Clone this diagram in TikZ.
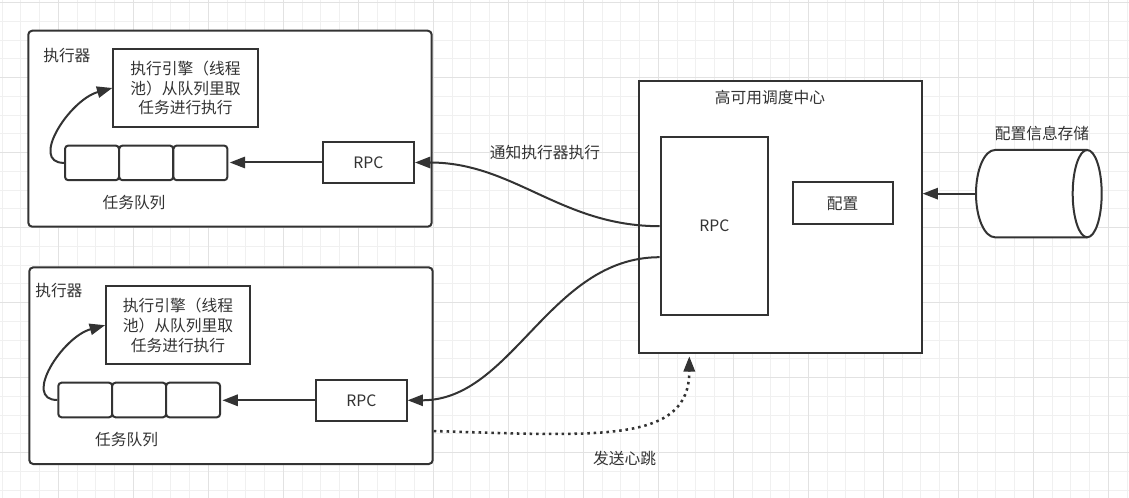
\documentclass[tikz,border=0pt]{standalone}
\usepackage{fontspec}
\setmainfont{Noto Sans CJK SC}
\usetikzlibrary{arrows.meta}
\definecolor{ink}{HTML}{333333}
\definecolor{gmin}{HTML}{F0F0F0}
\definecolor{gmaj}{HTML}{E2E2E2}
\begin{document}
\begin{tikzpicture}[x=0.75pt,y=-0.75pt,
  font=\fontsize{11.8pt}{14.8pt}\selectfont, text=ink,
  box/.style={draw=ink, line width=1.5pt, fill=white, inner sep=0pt},
  rbox/.style={box, rounded corners=3pt},
  cell/.style={box, rounded corners=2.5pt, minimum width=40.5pt, minimum height=26pt},
  lbl/.style={inner sep=0pt},
  arr/.style={draw=ink, line width=1.5pt, -{Triangle[length=11.5pt,width=8.5pt]}},
  dotarr/.style={draw=ink, line width=1.9pt, dash pattern=on 1.9pt off 2.9pt, -{Triangle[length=11.5pt,width=8.5pt]}}
]
\useasboundingbox (0,0) rectangle (1129,498);
\fill[white] (0,0) rectangle (1129,498);
% grid
\foreach \k in {0,...,60} {
  \draw[gmin, line width=0.75pt] ({2.05+18.75*\k},0) -- ({2.05+18.75*\k},498);
}
\foreach \k in {0,...,26} {
  \draw[gmin, line width=0.75pt] (0,{2.7+18.75*\k}) -- (1129,{2.7+18.75*\k});
}
\foreach \k in {0,...,14} {
  \draw[gmaj, line width=0.75pt] ({58.3+75*\k},0) -- ({58.3+75*\k},498);
}
\foreach \k in {0,...,6} {
  \draw[gmaj, line width=0.75pt] (0,{2.7+75*\k}) -- (1129,{2.7+75*\k});
}

% executor 1
\node[rbox, minimum width=302.6pt, minimum height=147pt] (ex1) at (230,128.7) {};
\node[lbl, anchor=west] (ex1t) at (43,56) {执行器};
\node[box, minimum width=108.3pt, minimum height=58pt, align=center] (eng1) at (185.5,88) {执行引擎（线程\\池）从队列里取\\任务进行执行};
\node[cell] (q1a) at (92,162.9) {};
\node[cell] (q1b) at (146.2,162.9) {};
\node[cell] (q1c) at (200.4,162.9) {};
\node[lbl] (q1t) at (134,202.3) {任务队列};
\node[box, minimum width=68.5pt, minimum height=30.3pt] (rpc1) at (368.3,162.5) {RPC};

% executor 2
\node[rbox, minimum width=302.6pt, minimum height=147.5pt] (ex2) at (231,365.7) {};
\node[lbl, anchor=west] (ex2t) at (35,290.7) {执行器};
\node[box, minimum width=108pt, minimum height=58.7pt, align=center] (eng2) at (178,325.2) {执行引擎（线程\\池）从队列里取\\任务进行执行};
\node[cell] (q2a) at (85.3,400) {};
\node[cell] (q2b) at (139.2,400) {};
\node[cell] (q2c) at (193.1,400) {};
\node[lbl] (q2t) at (126.7,440) {任务队列};
\node[box, minimum width=68pt, minimum height=30.5pt] (rpc2) at (361.3,400.3) {RPC};

% hub
\node[box, minimum width=212pt, minimum height=204pt] (hub) at (780.3,216.7) {};
\node[lbl] (hubt) at (770,97.3) {高可用调度中心};
\node[box, minimum width=80.5pt, minimum height=133.3pt] (rpcc) at (714.3,226.2) {RPC};
\node[box, minimum width=75pt, minimum height=31.5pt] (cfg) at (842.7,203.3) {配置};

% storage cylinder
\node[inner sep=0pt, minimum width=94.3pt, minimum height=65.5pt] (store) at (1038.85,193.65) {};
\fill[white] (995,150) -- (1087.2,150) -- (1087.2,237.3) -- (995,237.3) -- cycle;
\fill[white] (995,150) arc[start angle=90,end angle=270,x radius=14.25pt,y radius=32.74pt] -- cycle;
\fill[white] (1087.2,193.65) ellipse[x radius=10.875pt, y radius=32.74pt];
\draw[ink, line width=1.5pt] (1087.2,150) -- (995,150) arc[start angle=90,end angle=270,x radius=14.25pt,y radius=32.74pt] -- (1087.2,237.3);
\draw[ink, line width=1.5pt] (1087.2,193.65) ellipse[x radius=10.875pt, y radius=32.74pt];
\node[lbl] (storet) at (1042,133.3) {配置信息存储};

% connectors
\draw[arr] (rpc1.west) -- ([xshift=1pt]rpc1.west -| q1c.east);
\draw[arr] (rpc2.west) -- ([xshift=1pt]rpc2.west -| q2c.east);
\draw[arr] (q1a.west) .. controls +(-35,0) and +(-43,12) .. (eng1.west);
\draw[arr] (q2a.west) .. controls +(-35,0) and +(-43,12) .. (eng2.west);
\draw[arr] (rpcc.west) .. controls +(-99,0) and +(99,0) .. (rpc1.east);
\draw[arr] ([yshift=-23.25pt]rpcc.west) .. controls +(-110,0) and +(105,0) .. (rpc2.east);
\draw[dotarr] ([yshift=-49pt]ex2.east) .. controls +(167,5) and +(0,87) .. ([xshift=-68.25pt,yshift=-2pt]hub.south);
\draw[arr] (store.west) -- (store.west -| hub.east);

\node[lbl] (n1) at (545,152.3) {通知执行器执行};
\node[lbl] (n2) at (624.7,458.3) {发送心跳};
\end{tikzpicture}
\end{document}
